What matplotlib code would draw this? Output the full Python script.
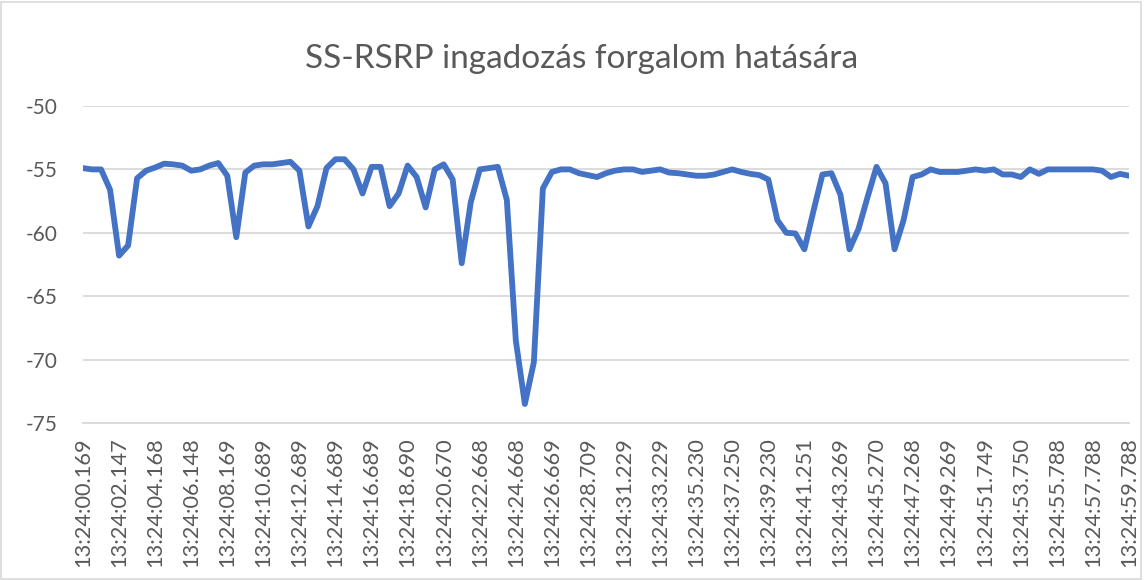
import numpy as np
import matplotlib
matplotlib.use('Agg')
from matplotlib import pyplot as plt
from matplotlib.patches import Rectangle

# SS-RSRP samples (dBm), one every ~0.5 s
rsrp = [-54.9, -55.0, -55.0, -56.6, -61.8, -61.0, -55.7, -55.1, -54.85, -54.55,
        -54.6, -54.7, -55.1, -55.0, -54.7, -54.5, -55.5, -60.35, -55.25, -54.7,
        -54.6, -54.6, -54.5, -54.4, -55.1, -59.5, -57.9, -54.9, -54.2, -54.2,
        -55.0, -56.9, -54.8, -54.8, -57.9, -56.9, -54.7, -55.6, -58.0, -55.0,
        -54.6, -55.8, -62.4, -57.6, -55.0, -54.9, -54.8, -57.4, -68.5, -73.5,
        -70.2, -56.5, -55.2, -55.0, -55.0, -55.3, -55.45, -55.6, -55.3, -55.1,
        -55.0, -55.0, -55.2, -55.1, -55.0, -55.25, -55.3, -55.4, -55.5, -55.5,
        -55.4, -55.2, -55.0, -55.2, -55.35, -55.45, -55.8, -59.0, -60.0, -60.05,
        -61.3, -58.3, -55.4, -55.3, -57.0, -61.3, -59.7, -57.2, -54.8, -56.1,
        -61.3, -59.0, -55.6, -55.4, -55.0, -55.2, -55.2, -55.2, -55.1, -55.0,
        -55.1, -55.0, -55.4, -55.4, -55.6, -55.0, -55.35, -55.0, -55.0, -55.0,
        -55.0, -55.0, -55.0, -55.1, -55.6, -55.35, -55.5]

# every 4th sample is labelled on the category axis
tick_labels = ['13:24:00.169', '13:24:02.147', '13:24:04.168', '13:24:06.148',
               '13:24:08.169', '13:24:10.689', '13:24:12.689', '13:24:14.689',
               '13:24:16.689', '13:24:18.690', '13:24:20.670', '13:24:22.668',
               '13:24:24.668', '13:24:26.669', '13:24:28.709', '13:24:31.229',
               '13:24:33.229', '13:24:35.230', '13:24:37.250', '13:24:39.230',
               '13:24:41.251', '13:24:43.269', '13:24:45.270', '13:24:47.268',
               '13:24:49.269', '13:24:51.749', '13:24:53.750', '13:24:55.788',
               '13:24:57.788', '13:24:59.788']
y_ticks = [-50, -55, -60, -65, -70, -75]

plt.rcParams['font.family'] = ['Lato', 'DejaVu Sans']
txt = '#595959'
grid = '#d9d9d9'

fig = plt.figure(figsize=(11.44, 5.8), dpi=100)
ax = fig.add_axes([83/1144, 1 - 423/580, (1129 - 83)/1144, (423 - 106)/580])

x = np.arange(len(rsrp))
ax.plot(x, rsrp, color='#4472C4', linewidth=4.2, solid_joinstyle='round',
        solid_capstyle='round', zorder=3)

ax.set_xlim(0, len(rsrp) - 1)
ax.set_ylim(-75, -50)
ax.set_yticks(y_ticks)
ax.set_yticklabels([str(v) for v in y_ticks])
ax.set_xticks(x[::4])
ax.set_xticklabels(tick_labels, rotation=90)
ax.tick_params(axis='y', length=0, pad=18, labelsize=15, labelcolor=txt)
ax.tick_params(axis='x', length=0, pad=10, labelsize=15.7, labelcolor=txt)

ax.grid(axis='y', color=grid, linewidth=1.3)
for s in ['top', 'right', 'left']:
    ax.spines[s].set_visible(False)
ax.spines['bottom'].set_color(grid)
ax.spines['bottom'].set_linewidth(1.3)
ax.set_axisbelow(True)

fig.text(582/1144, 1 - 59/580, 'SS-RSRP ingadozás forgalom hatására',
         ha='center', va='center', fontsize=24, color=txt)

# chart area border
fig.patches.append(Rectangle((0.001, 0.002), 0.996, 0.995, transform=fig.transFigure,
                             fill=False, edgecolor=grid, linewidth=1.2))

fig.savefig('out.png', dpi=100)
